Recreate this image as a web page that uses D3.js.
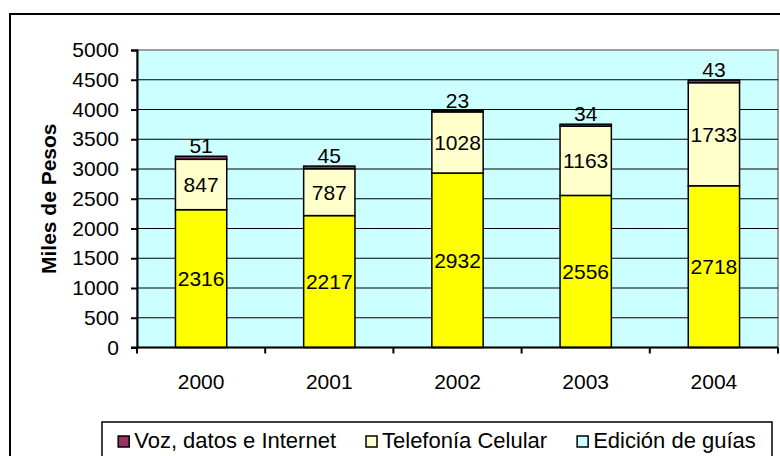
<!DOCTYPE html>
<html>
<head>
<meta charset="utf-8">
<script src="https://cdn.jsdelivr.net/npm/d3@7"></script>
<style>
  body { margin: 0; background: #fff; }
  text { font-family: "Liberation Sans", Arial, sans-serif; }
</style>
</head>
<body>
<script>
const svgWidth = 780
const svgHeight = 456

const years = ["2000", "2001", "2002", "2003", "2004"]
const guias = [2316, 2217, 2932, 2556, 2718]
const celular = [847, 787, 1028, 1163, 1733]
const voz = [51, 45, 23, 34, 43]
const yTicks = [0, 500, 1000, 1500, 2000, 2500, 3000, 3500, 4000, 4500, 5000]
const legendLabels = ["Voz, datos e Internet", "Telefonía Celular", "Edición de guías"]

const plot = { left: 137, right: 778, top: 50, bottom: 347.5 }

const svg = d3.select("body").append("svg")
  .attr("width", svgWidth)
  .attr("height", svgHeight)

// outer frame, runs off the page on the right and bottom
svg.append("rect")
  .attr("x", 10).attr("y", 14)
  .attr("width", 900).attr("height", 600)
  .attr("fill", "#fff")
  .attr("stroke", "#000")
  .attr("stroke-width", 2)

const x = d3.scaleBand()
  .domain(years)
  .range([plot.left, plot.right])
  .paddingInner(0.6)
  .paddingOuter(0.3)

const xEdge = d3.scaleBand().domain(years).range([plot.left, plot.right])

const y = d3.scaleLinear()
  .domain([0, 5000])
  .range([plot.bottom, plot.top])

// plot background
svg.append("rect")
  .attr("x", plot.left).attr("y", plot.top)
  .attr("width", plot.right - plot.left)
  .attr("height", plot.bottom - plot.top)
  .attr("fill", "#CCFFFF")
  .attr("stroke", "#808080")
  .attr("stroke-width", 1.5)

// gridlines
svg.append("g")
  .selectAll("line")
  .data(yTicks.filter(d => d > 0 && d < 5000))
  .enter().append("line")
  .attr("x1", plot.left).attr("x2", plot.right)
  .attr("y1", d => y(d)).attr("y2", d => y(d))
  .attr("stroke", "#000")
  .attr("stroke-width", 1.2)

// y axis
const yAxis = svg.append("g")
  .attr("transform", `translate(${plot.left},0)`)
  .call(d3.axisLeft(y).tickValues(yTicks).tickSize(6).tickPadding(12).tickFormat(d3.format("d")))
yAxis.select(".domain").attr("stroke", "#000").attr("stroke-width", 2)
yAxis.selectAll(".tick line").attr("stroke", "#000").attr("stroke-width", 2)
yAxis.selectAll("text")
  .attr("font-size", "21px")
  .attr("fill", "#000")

svg.append("text")
  .attr("transform", `translate(56, ${(plot.top + plot.bottom) / 2}) rotate(-90)`)
  .attr("text-anchor", "middle")
  .attr("font-size", "21px")
  .attr("font-weight", "bold")
  .text("Miles de Pesos")

// stacked bars
const rows = years.map((yr, i) => ({ year: yr, guias: guias[i], celular: celular[i], voz: voz[i] }))
const stack = d3.stack().keys(["guias", "celular", "voz"])(rows)
const fills = { guias: "#FFFF00", celular: "#FFFFCC", voz: "#993366" }

const layers = svg.append("g").selectAll("g")
  .data(stack)
  .enter().append("g")
  .attr("fill", d => fills[d.key])

layers.selectAll("rect")
  .data(d => d)
  .enter().append("rect")
  .attr("x", d => x(d.data.year))
  .attr("width", x.bandwidth())
  .attr("y", d => y(d[1]))
  .attr("height", d => y(d[0]) - y(d[1]))
  .attr("stroke", "#000")
  .attr("stroke-width", 1.5)

// labels
stack.forEach(layer => {
  svg.append("g").selectAll("text")
    .data(layer)
    .enter().append("text")
    .attr("x", d => x(d.data.year) + x.bandwidth() / 2)
    .attr("y", d => layer.key === "voz" ? y(d[1]) - 3 : (y(d[0]) + y(d[1])) / 2 + 7.5)
    .attr("text-anchor", "middle")
    .attr("font-size", "21px")
    .text(d => d[1] - d[0])
})

// x axis
svg.append("line")
  .attr("x1", plot.left - 6).attr("x2", plot.right)
  .attr("y1", plot.bottom).attr("y2", plot.bottom)
  .attr("stroke", "#000").attr("stroke-width", 2)

svg.append("g").selectAll("line")
  .data(years.concat(["end"]))
  .enter().append("line")
  .attr("x1", (d, i) => plot.left + i * xEdge.bandwidth())
  .attr("x2", (d, i) => plot.left + i * xEdge.bandwidth())
  .attr("y1", plot.bottom).attr("y2", plot.bottom + 6)
  .attr("stroke", "#000").attr("stroke-width", 2)

svg.append("g").selectAll("text")
  .data(years)
  .enter().append("text")
  .attr("x", d => x(d) + x.bandwidth() / 2)
  .attr("y", 389)
  .attr("text-anchor", "middle")
  .attr("font-size", "21px")
  .text(d => d)

// legend
svg.append("rect")
  .attr("x", 102).attr("y", 422)
  .attr("width", 670).attr("height", 60)
  .attr("fill", "#fff")
  .attr("stroke", "#000")
  .attr("stroke-width", 1.5)

const legendFills = ["#993366", "#FFFFCC", "#CCFFFF"]
const items = svg.append("g").selectAll("g")
  .data(legendLabels)
  .enter().append("g")

items.append("rect")
  .attr("width", 11).attr("height", 11)
  .attr("y", 436)
  .attr("fill", (d, i) => legendFills[i])
  .attr("stroke", "#000")
  .attr("stroke-width", 1.5)

items.append("text")
  .attr("x", 16)
  .attr("y", 448)
  .attr("font-size", "22px")
  .text(d => d)

const widths = []
items.each(function () {
  widths.push(16 + d3.select(this).select("text").node().getComputedTextLength())
})
const gap = 30
const total = d3.sum(widths) + gap * (widths.length - 1)
let cursor = 102 + (670 - total) / 2
items.attr("transform", (d, i) => {
  const t = `translate(${cursor},0)`
  cursor += widths[i] + gap
  return t
})
</script>
</body>
</html>
